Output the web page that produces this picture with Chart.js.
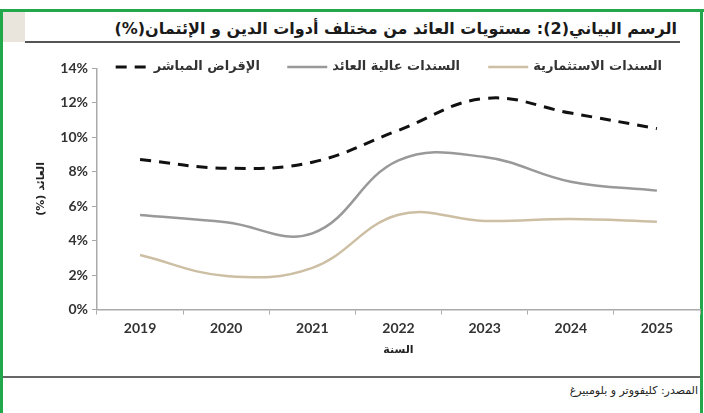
<!DOCTYPE html>
<html>
<head>
<meta charset="utf-8">
<script src="https://cdn.jsdelivr.net/npm/chart.js@4.4.1/dist/chart.umd.min.js"></script>
<style>
  body { margin: 0; background: #fff; }
  #wrap { position: relative; width: 704px; height: 413px; background: #fff; overflow: hidden; font-family: "DejaVu Sans", sans-serif; }
  .green { position: absolute; background: #22a84a; }
  #title { position: absolute; right: 27px; top: 19px; direction: rtl; font: bold 16px "DejaVu Sans", sans-serif; color: #1a1a1a; white-space: nowrap; }
  #rule-top { position: absolute; left: 25px; top: 41px; width: 655px; height: 2px; background: #555; }
  #rule-bottom { position: absolute; left: 3px; top: 376px; width: 697px; height: 2px; background: #666; }
  #source { position: absolute; right: 6px; top: 384px; direction: rtl; font: 11px "DejaVu Sans", sans-serif; color: #222; white-space: nowrap; }
  #chart { position: absolute; left: 0; top: 50px; }
</style>
</head>
<body>
<div id="wrap">
  <div class="green" style="left:0;top:9px;width:704px;height:3px"></div>
  <div class="green" style="left:0;top:9px;width:3px;height:404px"></div>
  <div class="green" style="left:700px;top:9px;width:3px;height:404px"></div>
  <div style="position:absolute;left:3px;top:12px;width:22px;height:30px;background:#e9e5dd"></div>
  <div id="title">الرسم البياني(2): مستويات العائد من مختلف أدوات الدين و الإئتمان(%)</div>
  <div id="rule-top"></div>
  <canvas id="chart" width="704" height="320"></canvas>
  <div id="rule-bottom"></div>
  <div id="source">المصدر: كليفووتر و بلومبيرغ</div>
</div>
<script>
const years = ['2019', '2020', '2021', '2022', '2023', '2024', '2025'];
const investmentGrade = [3.16, 1.95, 2.42, 5.5, 5.14, 5.25, 5.1];
const highYield = [5.48, 5.06, 4.42, 8.65, 8.85, 7.42, 6.9];
const directLending = [8.7, 8.2, 8.55, 10.4, 12.25, 11.4, 10.5];
const seriesNames = ['السندات الاستثمارية', 'السندات عالية العائد', 'الإقراض المباشر'];
const yTicks = [0, 2, 4, 6, 8, 10, 12, 14];

// legend drawn right-to-left, line sample on the left of each label
const rtlLegend = {
  id: 'rtlLegend',
  afterDraw(chart) {
    const ctx = chart.ctx;
    const textRight = [662, 460, 260];
    const y = 17;
    ctx.save();
    ctx.font = 'bold 13px "DejaVu Sans", sans-serif';
    ctx.direction = 'rtl';
    ctx.textAlign = 'right';
    ctx.textBaseline = 'middle';
    chart.data.datasets.forEach((ds, i) => {
      const x = textRight[i];
      ctx.fillStyle = '#333';
      ctx.fillText(ds.label, x, y);
      const w = ctx.measureText(ds.label).width;
      const end = x - w - 5;
      const len = ds.borderDash ? 33 : 40;
      ctx.beginPath();
      ctx.strokeStyle = ds.borderColor;
      ctx.lineWidth = ds.borderWidth;
      ctx.setLineDash(ds.borderDash || []);
      ctx.moveTo(end - len, y);
      ctx.lineTo(end, y);
      ctx.stroke();
    });
    ctx.restore();
  }
};

const ctx = document.getElementById('chart').getContext('2d');
new Chart(ctx, {
  type: 'line',
  data: {
    labels: years,
    datasets: [
      { label: seriesNames[0], data: investmentGrade, borderColor: '#cdbfa3', borderWidth: 2.5 },
      { label: seriesNames[1], data: highYield, borderColor: '#999999', borderWidth: 2.5 },
      { label: seriesNames[2], data: directLending, borderColor: '#111111', borderWidth: 3, borderDash: [11, 8] }
    ]
  },
  options: {
    responsive: false,
    animation: false,
    layout: { padding: { top: 18.3, right: 4, left: 0, bottom: 0 } },
    elements: {
      point: { radius: 0 },
      line: { tension: 0.4, fill: false, borderCapStyle: 'butt' }
    },
    plugins: {
      legend: { display: false },
      tooltip: { enabled: false }
    },
    scales: {
      x: {
        offset: true,
        grid: { offset: true, drawOnChartArea: false, drawTicks: true, tickLength: 5, color: '#aaa' },
        border: { color: '#aaa', width: 1.5 },
        ticks: { color: '#333', padding: 6, font: { family: 'Lato', size: 14, weight: 'bold' } },
        title: {
          display: true,
          text: 'السنة',
          color: '#222',
          font: { family: 'DejaVu Sans', size: 11, weight: 'bold' },
          padding: { top: 0, bottom: 13 }
        },
        afterFit(scale) { scale.height = 60.5; }
      },
      y: {
        min: 0,
        max: 14,
        afterBuildTicks(scale) { scale.ticks = yTicks.map(v => ({ value: v })); },
        grid: { drawOnChartArea: false, drawTicks: true, tickLength: 5, color: '#aaa' },
        border: { color: '#aaa', width: 1.5 },
        ticks: {
          color: '#333',
          padding: 4,
          font: { family: 'Lato', size: 14, weight: 'bold' },
          callback: v => v + '%'
        },
        title: {
          display: true,
          text: '\u202Bالعائد (%)\u202C',
          color: '#222',
          font: { family: 'DejaVu Sans', size: 11, weight: 'bold' },
          padding: { top: 35, bottom: 0 }
        },
        afterFit(scale) { scale.width = 97; }
      }
    }
  },
  plugins: [rtlLegend]
});
</script>
</body>
</html>
